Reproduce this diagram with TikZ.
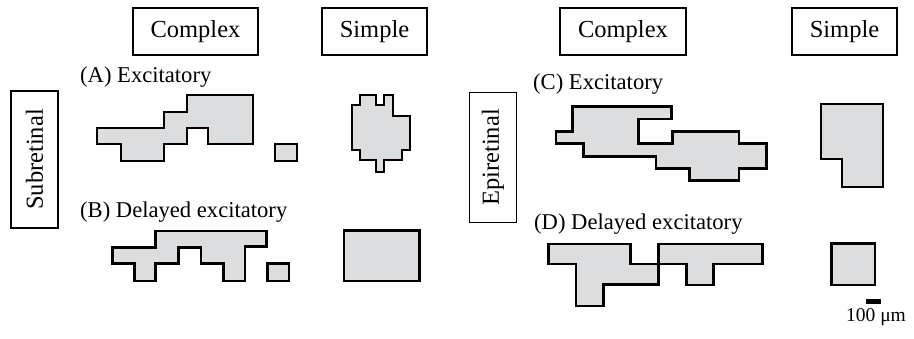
\documentclass[tikz,border=0pt]{standalone}
\usepackage{fontspec}
\setmainfont{Liberation Serif}
\definecolor{cellfill}{RGB}{220,221,222}
\begin{document}
\begin{tikzpicture}[x=1pt,y=-1pt,
  hdr/.style={draw,line width=1.4pt,inner sep=0pt,minimum width=125pt,minimum height=47pt,font=\fontsize{24.5}{28}\selectfont},
  side/.style={draw,line width=1.4pt,inner sep=0pt,minimum width=137pt,minimum height=47pt,rotate=90,font=\fontsize{24.5}{28}\selectfont},
  lbl/.style={anchor=base west,inner sep=0pt,font=\fontsize{22.6}{26}\selectfont},
  cell/.style={fill=cellfill,draw=black,line width=2.6pt,line join=miter}]
\useasboundingbox (0,0) rectangle (914,339);
% headers
\node[hdr] (c1) at (195.5,31.5) {Complex};
\node[hdr,minimum width=105pt] (s1) at (374.5,31.5) {Simple};
\node[hdr,minimum width=126pt] (c2) at (623,31.5) {Complex};
\node[hdr,minimum width=105pt] (s2) at (844.5,31.5) {Simple};
% side labels
\node[side] (sub) at (34.5,159.5) {Subretinal};
\node[side,minimum width=130pt] (epi) at (493,157.5) {Epiretinal};
% panel labels
\node[lbl] (la) at (80,83) {(A) Excitatory};
\node[lbl] (lb) at (80,218) {(B) Delayed excitatory};
\node[lbl] (lc) at (533,90) {(C) Excitatory};
\node[lbl] (ld) at (534,230) {(D) Delayed excitatory};
% (A) complex
\draw[cell] (97,128) -- (164,128) -- (164,112) -- (187,112) -- (187,95) -- (253,95) -- (253,144) -- (208,144) -- (208,128) -- (187,128) -- (187,144) -- (164,144) -- (164,161) -- (121,161) -- (121,144) -- (97,144) -- cycle;
\draw[cell] (275,144) rectangle (297,161);
% (A) simple
\draw[cell] (360,95) -- (376,95) -- (376,105) -- (384,105) -- (384,95) -- (393,95) -- (393,116) -- (410,116) -- (410,150) -- (402,150) -- (402,160) -- (384,160) -- (384,172) -- (376,172) -- (376,160) -- (360,160) -- (360,150) -- (352,150) -- (352,105) -- (360,105) -- cycle;
% (B) complex
\draw[cell] (155.7,231) -- (266.7,231) -- (266.7,246.7) -- (245,246.7) -- (245,281) -- (223.3,281) -- (223.3,263.3) -- (201,263.3) -- (201,247.7) -- (178.3,247.7) -- (178.3,263.3) -- (155.7,263.3) -- (155.7,281) -- (134.3,281) -- (134.3,263.3) -- (112.3,263.3) -- (112.3,247.7) -- (155.7,247.7) -- cycle;
\draw[cell] (267.3,263.3) rectangle (289,281);
% (B) simple
\draw[cell] (344,230.7) rectangle (419.3,281);
% (C) complex
\draw[cell] (572.7,106.7) -- (671.7,106.7) -- (671.7,119) -- (638.3,119) -- (638.3,143.3) -- (672.7,143.3) -- (672.7,131.7) -- (739,131.7) -- (739,143.3) -- (766.7,143.3) -- (766.7,168.3) -- (739,168.3) -- (739,180.7) -- (689.3,180.7) -- (689.3,168.3) -- (656,168.3) -- (656,156.7) -- (583.3,156.7) -- (583.3,143.3) -- (556,143.3) -- (556,131.7) -- (572.7,131.7) -- cycle;
% (C) simple
\draw[cell] (821,104) -- (883,104) -- (883,187) -- (842,187) -- (842,159) -- (821,159) -- cycle;
% (D) complex
\draw[cell] (548.3,244) -- (630.7,244) -- (630.7,264) -- (658.3,264) -- (658.3,284.3) -- (603.3,284.3) -- (603.3,306) -- (576,306) -- (576,264) -- (548.3,264) -- cycle;
\draw[cell] (658.3,244) -- (762.7,244) -- (762.7,264) -- (713.3,264) -- (713.3,285) -- (686.7,285) -- (686.7,264) -- (658.3,264) -- cycle;
% (D) simple
\draw[cell] (831.7,243.3) rectangle (875,285);
% scale bar
\fill (866,299.3) rectangle (881,303.6);
\node[anchor=base,inner sep=0pt,font=\fontsize{19.5}{22}\selectfont] (sb) at (876,322) {100 μm};
\end{tikzpicture}
\end{document}
